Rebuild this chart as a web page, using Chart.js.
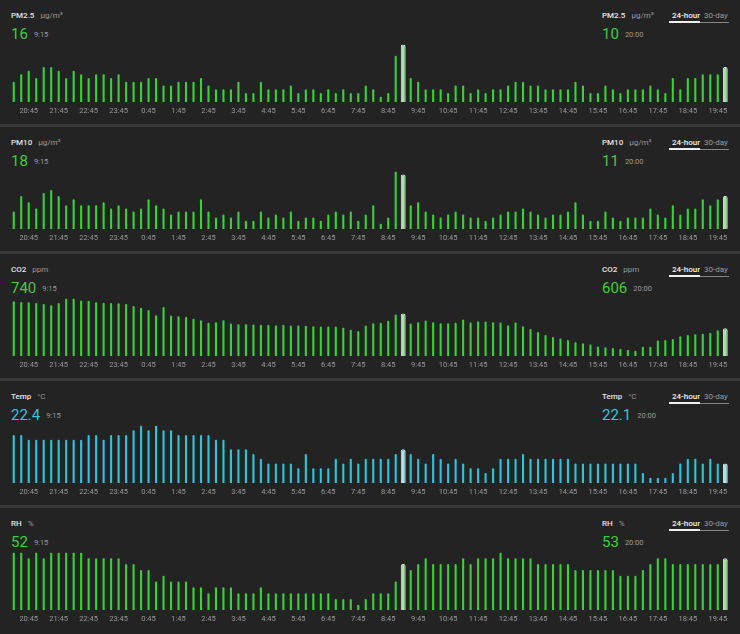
<!DOCTYPE html>
<html lang="en">

<head>
    <meta charset="UTF-8" />
    <title>Sensor history</title>
    <script src="https://cdn.jsdelivr.net/npm/chart.js@4.4.1/dist/chart.umd.min.js"></script>
    <style>
        body { margin: 0; width: 740px; height: 634px; overflow: hidden; position: relative;
               background: #232323; font-family: Roboto, "Noto Sans", sans-serif; }
        .panel { position: absolute; left: 0; width: 740px; height: 124px; }
        .sep { position: absolute; left: 0; width: 740px; height: 3px; background: #393939; }
        .head { position: absolute; top: 11px; font-size: 8px; line-height: 10px; color: #e4e4e4;
                font-weight: 500; white-space: nowrap; }
        .head .unit { color: #9a9a9a; font-weight: 400; margin-left: 6px; }
        .val { position: absolute; top: 25px; height: 18px; display: flex; align-items: center; white-space: nowrap; }
        .val b { font-size: 15px; font-weight: 400; }
        .val span { font-size: 7.5px; color: #9a9a9a; margin-left: 6px; }
        .tab { position: absolute; top: 11px; font-size: 8px; line-height: 10px; white-space: nowrap; }
        .tab.on { left: 672px; color: #f2f2f2; font-weight: 500; }
        .tab.off { left: 704px; color: #9a9a9a; }
        .line-on { position: absolute; left: 669px; width: 31px; top: 21px; height: 2px; background: #f0f0f0; }
        .line-off { position: absolute; left: 700px; width: 29px; top: 22px; height: 1px; background: #858585; }
        canvas { position: absolute; left: 0; }
    </style>
</head>

<body>
    <script>
        // one bar every 15 minutes, 24 hours back from 20:00
        const times = [
            "20:15", "20:30", "20:45", "21:00", "21:15", "21:30", "21:45", "22:00", "22:15", "22:30", "22:45", "23:00",
            "23:15", "23:30", "23:45", "0:00", "0:15", "0:30", "0:45", "1:00", "1:15", "1:30", "1:45", "2:00",
            "2:15", "2:30", "2:45", "3:00", "3:15", "3:30", "3:45", "4:00", "4:15", "4:30", "4:45", "5:00",
            "5:15", "5:30", "5:45", "6:00", "6:15", "6:30", "6:45", "7:00", "7:15", "7:30", "7:45", "8:00",
            "8:15", "8:30", "8:45", "9:00", "9:15", "9:30", "9:45", "10:00", "10:15", "10:30", "10:45", "11:00",
            "11:15", "11:30", "11:45", "12:00", "12:15", "12:30", "12:45", "13:00", "13:15", "13:30", "13:45", "14:00",
            "14:15", "14:30", "14:45", "15:00", "15:15", "15:30", "15:45", "16:00", "16:15", "16:30", "16:45", "17:00",
            "17:15", "17:30", "17:45", "18:00", "18:15", "18:30", "18:45", "19:00", "19:15", "19:30", "19:45", "20:00"
        ];

        const tickLabels = [
            "20:45", "21:45", "22:45", "23:45", "0:45", "1:45", "2:45", "3:45", "4:45", "5:45", "6:45", "7:45",
            "8:45", "9:45", "10:45", "11:45", "12:45", "13:45", "14:45", "15:45", "16:45", "17:45", "18:45", "19:45"
        ];

        // selected reading (left) and latest reading (right)
        const pickedTime = "9:15";
        const latestTime = "20:00";

        const pm25 = [
            6, 8, 9, 7, 10, 10, 9, 7, 9, 8, 7, 8, 8, 7, 8, 6, 6, 6, 7, 7, 5, 5, 6, 6, 6, 7, 5, 4, 4, 4, 6, 3,
            3, 6, 4, 4, 4, 5, 3, 4, 4, 3, 4, 3, 4, 3, 3, 5,
            4, 2, 3, 13, 16, 7, 6, 4, 4, 4, 3, 5, 5, 3, 4, 3, 4,
            4, 5, 6, 6, 5, 5, 4, 4, 4, 4, 6, 5, 3, 3, 5, 4, 3, 4, 4, 4, 5, 4, 3, 7, 4, 7, 7, 8, 8, 8, 10
        ];

        const pm10 = [
            6, 11, 9, 7, 12, 13, 11, 8, 10, 8, 8, 8, 9, 7, 8, 7, 6, 7, 10, 8, 7, 5, 6, 6, 6, 10, 6, 4, 5, 4,
            6, 3, 3, 6, 4, 5, 4, 6, 3, 4, 4, 3, 5, 6, 5, 6, 3, 5,
            8, 2, 4, 19, 18, 8, 9, 6, 5, 4, 5, 6, 5, 4, 4, 3, 4, 5, 6, 6, 7, 6, 5, 4, 5, 5, 6, 9, 5, 3, 3, 6,
            4, 3, 4, 4, 4, 7, 5, 4, 8, 5, 7, 7, 10, 8, 10, 11
        ];

        const co2 = [
            850, 844, 841, 835, 826, 814, 835, 876, 876, 859, 856, 841, 838, 835, 832, 826, 808, 793, 772, 725,
            799, 722, 716, 710, 692, 680, 656, 662, 680, 650, 644, 644, 641, 638, 638, 635, 638, 632, 632, 629,
            626, 623, 623, 623, 612, 594, 582, 632, 653, 656, 674, 731, 740, 650, 662, 677, 662, 653, 653, 656,
            686, 659, 671, 668, 662, 659, 635, 659, 626, 600, 573, 546, 528, 513, 501, 480, 472, 460, 442, 436,
            427, 421, 412, 403, 439, 439, 496, 501, 510, 534, 546, 552, 558, 567, 588, 606
        ];

        const temp = [
            22.7, 22.7, 22.6, 22.6, 22.6, 22.6, 22.6, 22.6, 22.6, 22.6, 22.7, 22.7, 22.6, 22.7, 22.7, 22.7,
            22.8, 22.9, 22.8, 22.9, 22.8, 22.8, 22.7, 22.7, 22.7, 22.7, 22.7, 22.6, 22.6, 22.4, 22.4, 22.4,
            22.3, 22.2, 22.1, 22.1, 22.1, 22.1, 22.0, 22.3, 22.0, 22.0, 22.0, 22.2, 22.1, 22.2, 22.1, 22.2,
            22.2, 22.2, 22.2, 22.3, 22.4, 22.3, 22.2, 22.1, 22.3, 22.2, 22.1, 22.2, 22.1, 22.0, 22.0, 21.9,
            22.0, 22.2, 22.2, 22.2, 22.3, 22.2, 22.2, 22.2, 22.2, 22.2, 22.2, 22.1, 22.1, 22.1, 22.1, 22.1,
            22.1, 22.1, 22.1, 22.1, 21.9, 21.8, 21.8, 21.8, 21.9, 22.1, 22.2, 22.2, 22.1, 22.2, 22.1, 22.1
        ];

        const rh = [
            54, 54, 53, 54, 53, 54, 54, 54, 54, 54, 53, 53, 53, 53, 53, 52, 52, 51, 51, 49,
            50, 49, 49, 49, 48, 48, 47, 48, 48, 48, 47, 47, 47, 48, 47, 47, 47, 47, 47, 47,
            47, 47, 47, 46, 46, 46, 45, 46, 47, 47, 47, 49, 52, 51, 52, 53, 52, 52, 52, 52,
            53, 52, 53, 53, 53, 54, 53, 53, 53, 53, 52, 52, 52, 52, 52, 51, 51, 51, 51, 51,
            51, 50, 50, 50, 51, 52, 53, 53, 52, 52, 52, 52, 52, 52, 52, 53
        ];

        const green = { bar: "#36d236", text: "#3ccf3c", light: "#9fe79f" };
        const cyan = { bar: "#2cc6db", text: "#33c5d8", light: "#a3e6f0" };

        const panels = [
            { name: "PM2.5", unit: "µg/m³", values: pm25, digits: 0, col: green },
            { name: "PM10", unit: "µg/m³", values: pm10, digits: 0, col: green },
            { name: "CO2", unit: "ppm", values: co2, digits: 0, col: green },
            { name: "Temp", unit: "°C", values: temp, digits: 1, col: cyan },
            { name: "RH", unit: "%", values: rh, digits: 0, col: green },
        ];

        const picked = times.indexOf(pickedTime);
        const latest = times.indexOf(latestTime);
        const marked = [picked, latest];

        function el(cls, html, parent) {
            const d = document.createElement("div");
            d.className = cls;
            d.innerHTML = html;
            parent.appendChild(d);
            return d;
        }

        panels.forEach((p, n) => {
            const top = n * 127;
            const box = document.createElement("div");
            box.className = "panel";
            box.style.top = top + "px";
            document.body.appendChild(box);

            if (n < panels.length - 1) {
                const sep = el("sep", "", document.body);
                sep.style.top = (top + 124) + "px";
            }

            // headers: left = selected reading, right = latest
            [[11, picked], [602, latest]].forEach(([x, idx]) => {
                const h = el("head", p.name + '<span class="unit">' + p.unit + "</span>", box);
                h.style.left = x + "px";
                const v = el("val", '<b style="color:' + p.col.text + '">' + p.values[idx].toFixed(p.digits) +
                    "</b><span>" + times[idx] + "</span>", box);
                v.style.left = x + "px";
            });
            el("tab on", "24-hour", box);
            el("tab off", "30-day", box);
            el("line-on", "", box);
            el("line-off", "", box);

            const canvas = document.createElement("canvas");
            canvas.width = 740;
            canvas.height = 83;
            canvas.style.top = "41px";
            box.appendChild(canvas);

            const lo = Math.min(...p.values);
            const hi = Math.max(...p.values);

            new Chart(canvas, {
                type: "bar",
                data: {
                    labels: times,
                    datasets: [
                        {
                            // highlighted readings, drawn on top
                            data: p.values.map((v, i) => (marked.includes(i) ? v : null)),
                            backgroundColor: p.col.light,
                            borderColor: "#f2f2f2",
                            borderWidth: 1,
                            categoryPercentage: 1,
                            barPercentage: 0.65,
                            borderRadius: 2,
                            borderSkipped: false,
                            grouped: false,
                        },
                        {
                            data: p.values,
                            backgroundColor: p.values.map((v, i) => (marked.includes(i) ? "rgba(0,0,0,0)" : p.col.bar)),
                            categoryPercentage: 1,
                            barPercentage: 0.28,
                            borderRadius: 1,
                            borderSkipped: "start",
                            grouped: false,
                        },
                    ],
                },
                options: {
                    responsive: false,
                    animation: false,
                    events: [],
                    layout: { padding: { left: 10, right: 11, top: 3.5, bottom: 3 } },
                    plugins: { legend: { display: false }, tooltip: { enabled: false } },
                    scales: {
                        x: {
                            grid: { display: false, drawTicks: false },
                            border: { display: false },
                            ticks: {
                                autoSkip: false,
                                maxRotation: 0,
                                padding: 5,
                                color: "#9a9a9a",
                                font: { family: "Roboto", size: 7.5 },
                                callback: (v, i) => (tickLabels.includes(times[i]) ? times[i] : ""),
                            },
                        },
                        y: { display: false, min: lo - 0.1 * (hi - lo), max: hi },
                    },
                },
            });
        });
    </script>
</body>

</html>
